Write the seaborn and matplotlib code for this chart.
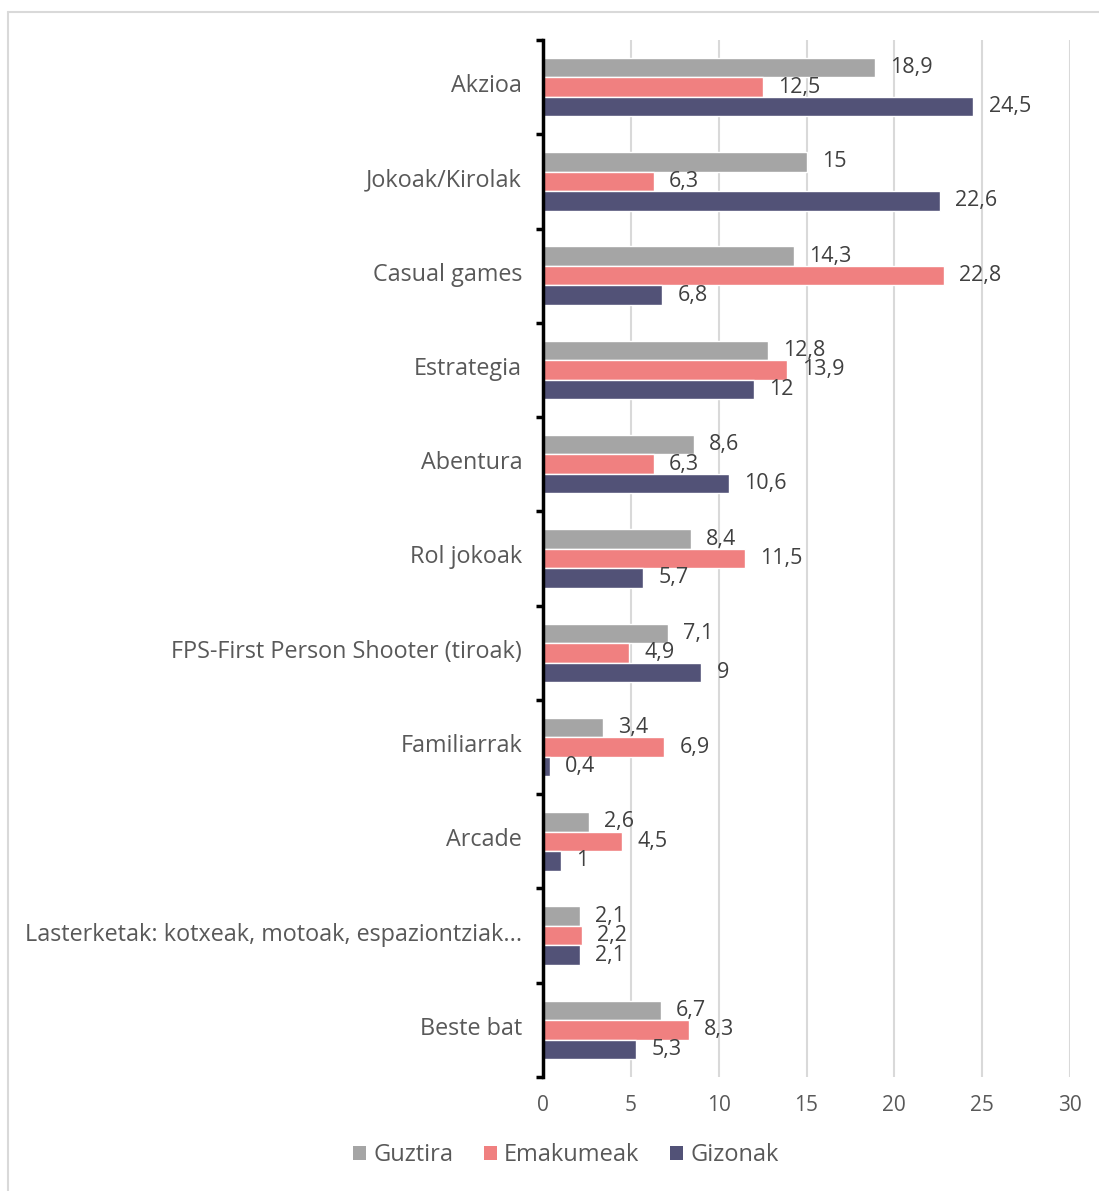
import matplotlib
matplotlib.use("Agg")
import matplotlib.pyplot as plt
import matplotlib.transforms as mtransforms
from matplotlib.lines import Line2D
from matplotlib.patches import Patch
import seaborn as sns
import pandas as pd
import numpy as np

categories = [
    "Akzioa",
    "Jokoak/Kirolak",
    "Casual games",
    "Estrategia",
    "Abentura",
    "Rol jokoak",
    "FPS-First Person Shooter (tiroak)",
    "Familiarrak",
    "Arcade",
    "Lasterketak: kotxeak, motoak, espaziontziak...",
    "Beste bat",
]
guztira = [18.9, 15, 14.3, 12.8, 8.6, 8.4, 7.1, 3.4, 2.6, 2.1, 6.7]
emakumeak = [12.5, 6.3, 22.8, 13.9, 6.3, 11.5, 4.9, 6.9, 4.5, 2.2, 8.3]
gizonak = [24.5, 22.6, 6.8, 12, 10.6, 5.7, 9, 0.4, 1, 2.1, 5.3]
series_names = ["Guztira", "Emakumeak", "Gizonak"]
colors = ["#A5A5A5", "#F08080", "#525277"]
x_ticks = [0, 5, 10, 15, 20, 25, 30]

df = pd.DataFrame({
    "Generoa": categories * 3,
    "Saila": sum([[s] * len(categories) for s in series_names], []),
    "Balioa": guztira + emakumeak + gizonak,
})

sns.set_theme(style="white")
plt.rcParams["font.family"] = ["Open Sans", "DejaVu Sans"]
text_color = "#595959"

W, H = 1099, 1191
fig = plt.figure(figsize=(W / 100, H / 100), dpi=100)
ax = fig.add_axes([543 / W, 1 - 1077 / H, (1070 - 543) / W, (1077 - 40) / H])

sns.barplot(
    data=df, y="Generoa", x="Balioa", hue="Saila", order=categories,
    hue_order=series_names, palette=colors, orient="h", width=0.62,
    saturation=1, ax=ax, legend=False, errorbar=None,
)

def fmt(v):
    s = f"{v:.1f}".replace(".", ",")
    return s[:-2] if s.endswith(",0") else s

for cont in ax.containers:
    ax.bar_label(cont, labels=[fmt(b.get_width()) for b in cont],
                 padding=11, fontsize=15.5, color="#404040")

ax.set_xlim(0, 30)
ax.set_ylim(len(categories) - 0.5, -0.5)
ax.set_xticks(x_ticks)
ax.set_xticklabels([str(t) for t in x_ticks])
ax.tick_params(axis="x", length=0, pad=13, labelsize=15, labelcolor=text_color)
ax.tick_params(axis="y", which="major", left=False, length=0, pad=15,
               labelsize=16.8, labelcolor=text_color)
ax.set_yticks(np.arange(-0.5, len(categories)), minor=True)
ax.tick_params(axis="y", which="minor", left=True, length=5, width=2.5,
               color="black", direction="out")
ax.set_xlabel("")
ax.set_ylabel("")
ax.grid(axis="x", color="#D9D9D9", linewidth=1.5)
ax.set_axisbelow(True)
for side in ["top", "right", "bottom"]:
    ax.spines[side].set_visible(False)
ax.spines["left"].set_color("black")
ax.spines["left"].set_linewidth(2.5)

# lift category labels slightly
shift = mtransforms.ScaledTranslation(0, 4 / 100, fig.dpi_scale_trans)
for lbl in ax.get_yticklabels():
    lbl.set_transform(lbl.get_transform() + shift)

handles = [Patch(facecolor=c, edgecolor="none") for c in colors]
fig.legend(handles, series_names, loc="center", bbox_to_anchor=(566 / W, 1 - 1155 / H),
           ncol=3, frameon=False, fontsize=17, handlelength=0.55, handleheight=0.55,
           handletextpad=0.3, columnspacing=1.3, labelcolor=text_color)

# outer frame of the chart area
fig.add_artist(Line2D([8 / W, 8 / W], [0, 1 - 12 / H], transform=fig.transFigure,
                      color="#D9D9D9", linewidth=1.5))
fig.add_artist(Line2D([8 / W, 1], [1 - 12 / H, 1 - 12 / H], transform=fig.transFigure,
                      color="#D9D9D9", linewidth=1.5))

fig.savefig("out.png", dpi=100, facecolor="white")
